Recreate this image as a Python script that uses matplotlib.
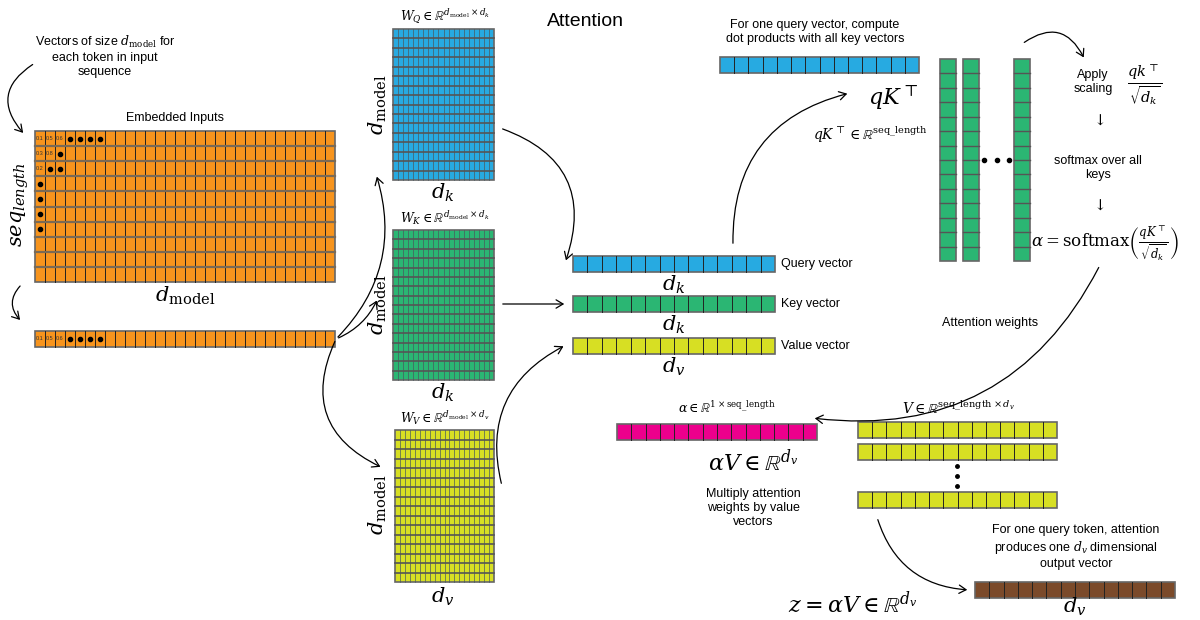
import matplotlib.pyplot as plt
from matplotlib.patches import Rectangle, FancyArrowPatch

plt.rcParams['font.family'] = ['Liberation Sans', 'DejaVu Sans']
plt.rcParams['mathtext.fontset'] = 'dejavuserif'

# grid blocks: name -> (x, y, w, h, cols, rows, color)
block_names = ["emb", "emb_row", "wq", "wk", "wv", "q_vec", "k_vec", "v_vec",
               "q_top", "k_col1", "k_col2", "k_col3", "alpha", "v_row1", "v_row2", "v_row3", "z"]
block_x = [35, 35, 393, 393, 395, 573, 573, 573, 720, 940, 963, 1014, 617, 858, 858, 858, 975]
block_y = [131, 331, 29, 230, 430, 256, 296, 338, 57, 59, 59, 59, 424, 422, 444, 492, 582]
block_w = [300, 300, 101, 101, 99, 202, 202, 202, 199, 16, 16, 16, 200, 199, 199, 199, 200]
block_h = [151, 16, 151, 150, 152, 16, 16, 16, 16, 202, 202, 202, 16, 16, 16, 16, 16]
block_cols = [30, 30, 20, 20, 20, 14, 14, 14, 14, 1, 1, 1, 14, 14, 14, 14, 14]
block_rows = [10, 1, 16, 16, 16, 1, 1, 1, 1, 14, 14, 14, 1, 1, 1, 1, 1]
block_color = ["#F7941D", "#F7941D", "#27AAE1", "#2BB673", "#D7DF23", "#27AAE1", "#2BB673",
               "#D7DF23", "#27AAE1", "#2BB673", "#2BB673", "#2BB673", "#EC008C",
               "#D7DF23", "#D7DF23", "#D7DF23", "#7B4A2A"]

cell_labels = {(0, 0): "0.1", (0, 1): "0.5", (0, 2): "0.6", (1, 0): "0.3", (1, 1): "0.8", (2, 0): "0.2"}
dot_cells = [(0, 3), (0, 4), (0, 5), (0, 6), (1, 2), (2, 1), (2, 2), (3, 0), (4, 0), (5, 0), (6, 0)]

fig = plt.figure(figsize=(12, 6.2), dpi=100)
ax = fig.add_axes([0, 0, 1, 1])
ax.set_xlim(0, 1200)
ax.set_ylim(620, 0)
ax.axis('off')

for i, name in enumerate(block_names):
    x, y, w, h = block_x[i], block_y[i], block_w[i], block_h[i]
    nc, nr = block_cols[i], block_rows[i]
    cw, rh = w / nc, h / nr
    dense = nc >= 20 and nr >= 10 and name != "emb"
    ax.add_patch(Rectangle((x, y), w, h, facecolor=block_color[i], edgecolor='#666666', lw=1.2))
    for c in range(1, nc):
        ax.plot([x + c * cw] * 2, [y, y + h], color='#4a5a60' if dense else '#222222',
                lw=0.5 if dense else 0.7)
    for r in range(1, nr):
        ax.plot([x, x + w], [y + r * rh] * 2, color='#7a6a55' if name == "emb" else '#555555',
                lw=1.6 if name == "emb" else (1.2 if dense else 1.0))
    if name in ("emb", "emb_row"):
        for (r, c), s in cell_labels.items():
            if name == "emb_row" and r > 0:
                continue
            ax.text(x + (c + 0.5) * cw, y + (r + 0.5) * rh, s, fontsize=4, ha='center', va='center', color='#333333')
        for (r, c) in dot_cells:
            if name == "emb_row" and r > 0:
                continue
            ax.plot(x + (c + 0.5) * cw, y + (r + 0.5) * rh, 'o', color='black', ms=3)

# ellipsis between key columns and V rows
for xx in (984, 997, 1009):
    ax.plot(xx, 160, 'o', color='black', ms=3)
for yy in (466, 476, 486):
    ax.plot(957, yy, 'o', color='black', ms=2.5)

def t(x, y, s, size=9, **kw):
    ax.text(x, y, s, fontsize=size, ha=kw.pop('ha', 'center'), va=kw.pop('va', 'center'), **kw)

t(585, 22, "Attention", 14)
t(105, 56, "Vectors of size $d_{\\mathrm{model}}$ for\neach token in input\nsequence", 9)
t(175, 118, "Embedded Inputs", 9)
t(20, 205, "$seq_{length}$", 15, rotation=90)
t(185, 296, "$d_{\\mathrm{model}}$", 15)
t(445, 17, "$W_Q \\in \\mathbb{R}^{d_{\\mathrm{model}} \\times d_k}$", 9)
t(445, 218, "$W_K \\in \\mathbb{R}^{d_{\\mathrm{model}} \\times d_k}$", 9)
t(445, 418, "$W_V \\in \\mathbb{R}^{d_{\\mathrm{model}} \\times d_v}$", 9)
for yy in (105, 305, 505):
    t(378, yy, "$d_{\\mathrm{model}}$", 15, rotation=90)
t(443, 193, "$d_k$", 15)
t(443, 393, "$d_k$", 15)
t(443, 597, "$d_v$", 15)
t(781, 264, "Query vector", 9, ha='left')
t(781, 304, "Key vector", 9, ha='left')
t(781, 346, "Value vector", 9, ha='left')
t(674, 285, "$d_k$", 15)
t(674, 325, "$d_k$", 15)
t(674, 367, "$d_v$", 15)
t(815, 32, "For one query vector, compute\ndot products with all key vectors", 9)
t(893, 98, "$qK^{\\top}$", 16)
t(870, 135, "$qK^{\\top} \\in \\mathbb{R}^{\\mathrm{seq\\_length}}$", 10)
t(1093, 82, "Apply\nscaling", 9)
t(1145, 85, "$\\frac{qk^{\\top}}{\\sqrt{d_k}}$", 15)
t(1098, 120, "$\\downarrow$", 11)
t(1098, 168, "softmax over all\nkeys", 9)
t(1098, 205, "$\\downarrow$", 11)
t(1105, 243, "$\\alpha = \\mathrm{softmax}\\left(\\frac{qK^{\\top}}{\\sqrt{d_k}}\\right)$", 12)
t(990, 323, "Attention weights", 9)
t(727, 408, "$\\alpha \\in \\mathbb{R}^{1 \\times \\mathrm{seq\\_length}}$", 9)
t(958, 408, "$V \\in \\mathbb{R}^{\\mathrm{seq\\_length} \\times d_v}$", 10)
t(753, 463, "$\\alpha V \\in \\mathbb{R}^{d_v}$", 16)
t(753, 508, "Multiply attention\nweights by value\nvectors", 9)
t(1076, 547, "For one query token, attention\nproduces one $d_v$ dimensional\noutput vector", 9)
t(853, 605, "$z = \\alpha V \\in \\mathbb{R}^{d_v}$", 16)
t(1075, 607, "$d_v$", 15)

def arrow(p0, p1, rad):
    ax.add_patch(FancyArrowPatch(p0, p1, connectionstyle=f"arc3,rad={rad}",
                                 arrowstyle='->,head_length=5,head_width=3', color='black', lw=0.9))

arrow((35, 63), (25, 135), 0.6)
arrow((22, 284), (22, 322), 0.5)
arrow((336, 339), (376, 174), 0.3)
arrow((336, 339), (378, 298), 0.2)
arrow((336, 339), (383, 468), 0.5)
arrow((500, 128), (565, 263), -0.5)
arrow((500, 304), (567, 304), 0)
arrow((502, 486), (566, 345), -0.4)
arrow((733, 246), (850, 93), -0.4)
arrow((1022, 44), (1085, 60), -0.6)
arrow((1100, 265), (812, 418), -0.35)
arrow((877, 517), (970, 590), 0.35)

fig.savefig("out.png", dpi=100)
